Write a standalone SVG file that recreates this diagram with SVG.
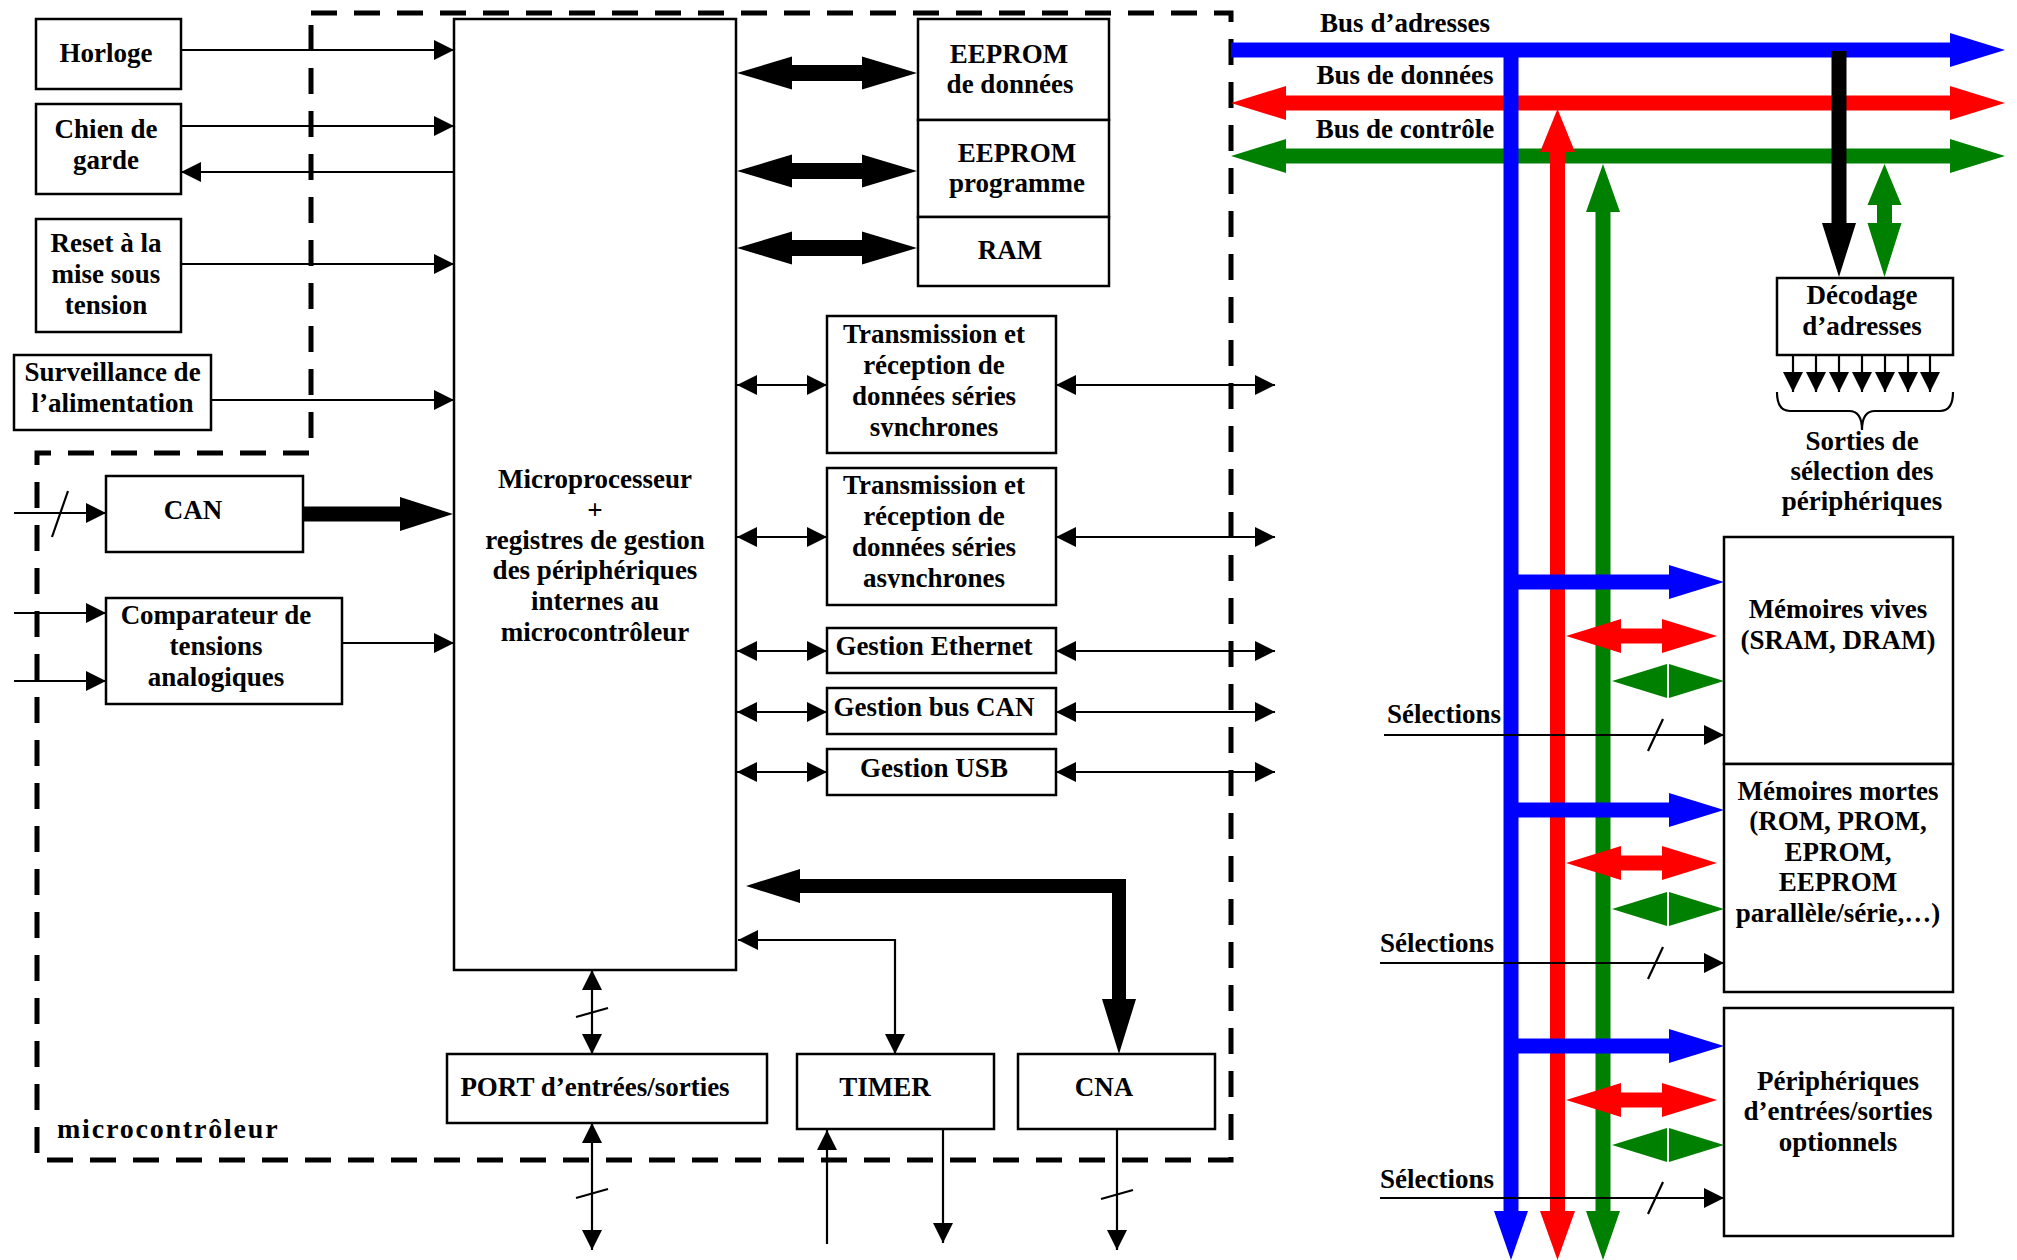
<svg xmlns="http://www.w3.org/2000/svg" width="2017" height="1260" viewBox="0 0 2017 1260">
<style>
.box{fill:#fff;stroke:#000;stroke-width:2.5}
.t{font-family:"Liberation Serif","Times New Roman",serif;font-weight:bold;font-size:27px;text-anchor:middle;fill:#000}
.s{text-anchor:start}
.ln{stroke:#000;stroke-width:2.2;fill:none}
.bl{fill:#0000ff}
.rd{fill:#ff0000}
.gr{fill:#008000}
.bk{fill:#000}
</style>
<defs>
<marker id="ah" viewBox="0 0 20 20" refX="20" refY="10" markerWidth="20" markerHeight="20" markerUnits="userSpaceOnUse" orient="auto-start-reverse">
<path d="M0,0 L20,10 L0,20 z" fill="#000"/>
</marker>
<clipPath id="cs"><rect x="827" y="316" width="229" height="121"/></clipPath>
<clipPath id="ca"><rect x="827" y="468" width="229" height="120"/></clipPath>
</defs>
<rect width="2017" height="1260" fill="#fff"/>

<g id="boundary">
<path d="M311,13 H1231 V1160 H37 V453 H311 Z" fill="none" stroke="#000" stroke-width="5" stroke-dasharray="26 17"/>
<text class="t s" x="57" y="1138" style="font-size:28px;letter-spacing:1.8px">microcontrôleur</text>
</g>

<g id="connectors">
<path class="ln" marker-end="url(#ah)" d="M181,50 H454"/>
<path class="ln" marker-end="url(#ah)" d="M181,126 H454"/>
<path class="ln" marker-end="url(#ah)" d="M454,172 H181"/>
<path class="ln" marker-end="url(#ah)" d="M181,264 H454"/>
<path class="ln" marker-end="url(#ah)" d="M211,400 H454"/>
<path class="ln" marker-end="url(#ah)" d="M14,513 H106"/>
<path class="ln" d="M68,491 L52,537"/>
<path class="ln" marker-end="url(#ah)" d="M14,613 H106"/>
<path class="ln" marker-end="url(#ah)" d="M14,681 H106"/>
<path class="ln" marker-end="url(#ah)" d="M342,643 H454"/>
<polygon class="bk" points="303,506.5 400,506.5 400,497 453,514 400,531 400,521.5 303,521.5"/>
<polygon class="bk" points="737,73 792,56.5 792,65 862,65 862,56.5 917,73 862,89.5 862,81 792,81 792,89.5"/>
<polygon class="bk" points="737,171 792,154.5 792,163 862,163 862,154.5 917,171 862,187.5 862,179 792,179 792,187.5"/>
<polygon class="bk" points="737,248 792,231.5 792,240 862,240 862,231.5 917,248 862,264.5 862,256 792,256 792,264.5"/>
<path class="ln" marker-start="url(#ah)" marker-end="url(#ah)" d="M737,385 H827"/>
<path class="ln" marker-start="url(#ah)" marker-end="url(#ah)" d="M1056,385 H1275"/>
<path class="ln" marker-start="url(#ah)" marker-end="url(#ah)" d="M737,537 H827"/>
<path class="ln" marker-start="url(#ah)" marker-end="url(#ah)" d="M1056,537 H1275"/>
<path class="ln" marker-start="url(#ah)" marker-end="url(#ah)" d="M737,651 H827"/>
<path class="ln" marker-start="url(#ah)" marker-end="url(#ah)" d="M1056,651 H1275"/>
<path class="ln" marker-start="url(#ah)" marker-end="url(#ah)" d="M737,712 H827"/>
<path class="ln" marker-start="url(#ah)" marker-end="url(#ah)" d="M1056,712 H1275"/>
<path class="ln" marker-start="url(#ah)" marker-end="url(#ah)" d="M737,772 H827"/>
<path class="ln" marker-start="url(#ah)" marker-end="url(#ah)" d="M1056,772 H1275"/>
<polygon class="bk" points="746,886 800,869 800,879 1126,879 1126,999 1136,999 1119,1054 1102,999 1112,999 1112,893 800,893 800,903"/>
<path class="ln" marker-start="url(#ah)" marker-end="url(#ah)" d="M738,940 H895 V1054"/>
<path class="ln" marker-start="url(#ah)" marker-end="url(#ah)" d="M592,970 V1054"/>
<path class="ln" d="M576,1017 L608,1008"/>
<path class="ln" marker-start="url(#ah)" marker-end="url(#ah)" d="M592,1123 V1250"/>
<path class="ln" d="M576,1198 L608,1189"/>
<path class="ln" marker-end="url(#ah)" d="M827,1244 V1130"/>
<path class="ln" marker-end="url(#ah)" d="M943,1130 V1243"/>
<path class="ln" marker-end="url(#ah)" d="M1117,1130 V1250"/>
<path class="ln" d="M1101,1199 L1133,1190"/>

<polygon class="gr" points="1231,156 1286,139 1286,148.5 1950,148.5 1950,139 2005,156 1950,173 1950,163.5 1286,163.5 1286,173"/>
<polygon class="rd" points="1231,103 1286,86 1286,95.5 1950,95.5 1950,86 2005,103 1950,120 1950,110.5 1286,110.5 1286,120"/>
<polygon class="bl" points="1231,42.5 1950,42.5 1950,33 2005,50 1950,67 1950,57.5 1231,57.5"/>
<polygon class="gr" points="1603,164 1620,212 1610.5,212 1610.5,1211 1620,1211 1603,1260 1586,1211 1595.5,1211 1595.5,212 1586,212"/>
<polygon class="rd" points="1557.5,109 1575,152 1565,152 1565,1211 1575,1211 1557.5,1260 1540,1211 1550,1211 1550,152 1540,152"/>
<polygon class="bl" points="1503.5,50 1518.5,50 1518.5,1211 1528,1211 1511,1260 1494,1211 1503.5,1211"/>
<polygon class="bk" points="1831.5,51 1846.5,51 1846.5,223 1856,223 1839,277 1822,223 1831.5,223"/>
<polygon class="gr" points="1884.5,164 1901.5,205 1892,205 1892,223 1901.5,223 1884.5,277 1867.5,223 1877,223 1877,205 1867.5,205"/>

<polygon class="bl" points="1511,574.5 1669,574.5 1669,565 1724,582 1669,599 1669,589.5 1511,589.5"/>
<polygon class="bl" points="1511,802.5 1669,802.5 1669,793 1724,810 1669,827 1669,817.5 1511,817.5"/>
<polygon class="bl" points="1511,1038.5 1669,1038.5 1669,1029 1724,1046 1669,1063 1669,1053.5 1511,1053.5"/>
<polygon class="rd" points="1566,636 1621,619 1621,628.5 1662,628.5 1662,619 1717,636 1662,653 1662,643.5 1621,643.5 1621,653"/>
<polygon class="rd" points="1566,863 1621,846 1621,855.5 1662,855.5 1662,846 1717,863 1662,880 1662,870.5 1621,870.5 1621,880"/>
<polygon class="rd" points="1566,1100 1621,1083 1621,1092.5 1662,1092.5 1662,1083 1717,1100 1662,1117 1662,1107.5 1621,1107.5 1621,1117"/>
<polygon class="gr" points="1612,681 1667,664 1667,698"/>
<polygon class="gr" points="1669,664 1724,681 1669,698"/>
<polygon class="gr" points="1612,909 1667,892 1667,926"/>
<polygon class="gr" points="1669,892 1724,909 1669,926"/>
<polygon class="gr" points="1612,1145 1667,1128 1667,1162"/>
<polygon class="gr" points="1669,1128 1724,1145 1669,1162"/>

<path class="ln" marker-end="url(#ah)" d="M1384,735 H1724"/>
<path class="ln" d="M1663,719 L1648,751"/>
<path class="ln" marker-end="url(#ah)" d="M1380,963 H1724"/>
<path class="ln" d="M1663,947 L1648,979"/>
<path class="ln" marker-end="url(#ah)" d="M1380,1198 H1724"/>
<path class="ln" d="M1663,1182 L1648,1214"/>

<path class="ln" marker-end="url(#ah)" d="M1793,355 V392"/>
<path class="ln" marker-end="url(#ah)" d="M1816,355 V392"/>
<path class="ln" marker-end="url(#ah)" d="M1839,355 V392"/>
<path class="ln" marker-end="url(#ah)" d="M1862,355 V392"/>
<path class="ln" marker-end="url(#ah)" d="M1885,355 V392"/>
<path class="ln" marker-end="url(#ah)" d="M1908,355 V392"/>
<path class="ln" marker-end="url(#ah)" d="M1930,355 V392"/>
<path class="ln" d="M1777,392 Q1777,411 1790,411 L1849,411 Q1862,411 1862,430 Q1862,411 1875,411 L1940,411 Q1953,411 1953,392"/>
</g>

<g id="bus-labels">
<text class="t" x="1405" y="32">Bus d’adresses</text>
<text class="t" x="1405" y="84">Bus de données</text>
<text class="t" x="1405" y="138">Bus de contrôle</text>
<text class="t s" x="1387" y="723">Sélections</text>
<text class="t s" x="1380" y="952">Sélections</text>
<text class="t s" x="1380" y="1188">Sélections</text>
<text class="t" x="1862" y="450">Sorties de</text>
<text class="t" x="1862" y="480">sélection des</text>
<text class="t" x="1862" y="510">périphériques</text>
</g>

<g id="horloge"><rect class="box" x="36" y="19" width="145" height="70"/><text class="t" x="106" y="62">Horloge</text></g>
<g id="chien"><rect class="box" x="36" y="104" width="145" height="90"/><text class="t" x="106" y="138">Chien de</text><text class="t" x="106" y="169">garde</text></g>
<g id="reset"><rect class="box" x="36" y="219" width="145" height="113"/><text class="t" x="106" y="252">Reset à la</text><text class="t" x="106" y="283">mise sous</text><text class="t" x="106" y="314">tension</text></g>
<g id="surveillance"><rect class="box" x="14" y="355" width="197" height="75"/><text class="t" x="112.5" y="381">Surveillance de</text><text class="t" x="112.5" y="412">l’alimentation</text></g>
<g id="can"><rect class="box" x="106" y="476" width="197" height="76"/><text class="t" x="193" y="519">CAN</text></g>
<g id="comparateur"><rect class="box" x="106" y="598" width="236" height="106"/><text class="t" x="216" y="624">Comparateur de</text><text class="t" x="216" y="655">tensions</text><text class="t" x="216" y="686">analogiques</text></g>
<g id="micro"><rect class="box" x="454" y="19" width="282" height="951"/>
<text class="t" x="595" y="488">Microprocesseur</text><text class="t" x="595" y="519">+</text><text class="t" x="595" y="549">registres de gestion</text><text class="t" x="595" y="579">des périphériques</text><text class="t" x="595" y="610">internes au</text><text class="t" x="595" y="641">microcontrôleur</text></g>
<g id="eeprom-donnees"><rect class="box" x="918" y="19" width="191" height="101"/><text class="t" x="1009" y="63">EEPROM</text><text class="t" x="1010" y="93">de données</text></g>
<g id="eeprom-programme"><rect class="box" x="918" y="120" width="191" height="97"/><text class="t" x="1017" y="162">EEPROM</text><text class="t" x="1017" y="192">programme</text></g>
<g id="ram"><rect class="box" x="918" y="217" width="191" height="69"/><text class="t" x="1010" y="259">RAM</text></g>
<g id="sync"><rect class="box" x="827" y="316" width="229" height="137"/><g clip-path="url(#cs)"><text class="t" x="934" y="343">Transmission et</text><text class="t" x="934" y="374">réception de</text><text class="t" x="934" y="405">données séries</text><text class="t" x="934" y="436">synchrones</text></g></g>
<g id="async"><rect class="box" x="827" y="468" width="229" height="137"/><g clip-path="url(#ca)"><text class="t" x="934" y="494">Transmission et</text><text class="t" x="934" y="525">réception de</text><text class="t" x="934" y="556">données séries</text><text class="t" x="934" y="587">asynchrones</text></g></g>
<g id="ethernet"><rect class="box" x="827" y="628" width="229" height="45"/><text class="t" x="934" y="655">Gestion Ethernet</text></g>
<g id="buscan"><rect class="box" x="827" y="688" width="229" height="46"/><text class="t" x="934" y="716">Gestion bus CAN</text></g>
<g id="usb"><rect class="box" x="827" y="749" width="229" height="46"/><text class="t" x="934" y="777">Gestion USB</text></g>
<g id="port"><rect class="box" x="447" y="1054" width="320" height="69"/><text class="t" x="595" y="1096">PORT d’entrées/sorties</text></g>
<g id="timer"><rect class="box" x="797" y="1054" width="197" height="75"/><text class="t" x="885" y="1096">TIMER</text></g>
<g id="cna"><rect class="box" x="1018" y="1054" width="197" height="75"/><text class="t" x="1104" y="1096">CNA</text></g>
<g id="decodage"><rect class="box" x="1777" y="278" width="176" height="77"/><text class="t" x="1862" y="304">Décodage</text><text class="t" x="1862" y="335">d’adresses</text></g>
<g id="memoires-vives"><rect class="box" x="1724" y="537" width="229" height="227"/><text class="t" x="1838" y="618">Mémoires vives</text><text class="t" x="1838" y="649">(SRAM, DRAM)</text></g>
<g id="memoires-mortes"><rect class="box" x="1724" y="764" width="229" height="228"/><text class="t" x="1838" y="800">Mémoires mortes</text><text class="t" x="1838" y="830">(ROM, PROM,</text><text class="t" x="1838" y="861">EPROM,</text><text class="t" x="1838" y="891">EEPROM</text><text class="t" x="1838" y="922">parallèle/série,…)</text></g>
<g id="peripheriques"><rect class="box" x="1724" y="1008" width="229" height="228"/><text class="t" x="1838" y="1090">Périphériques</text><text class="t" x="1838" y="1120">d’entrées/sorties</text><text class="t" x="1838" y="1151">optionnels</text></g>
</svg>
